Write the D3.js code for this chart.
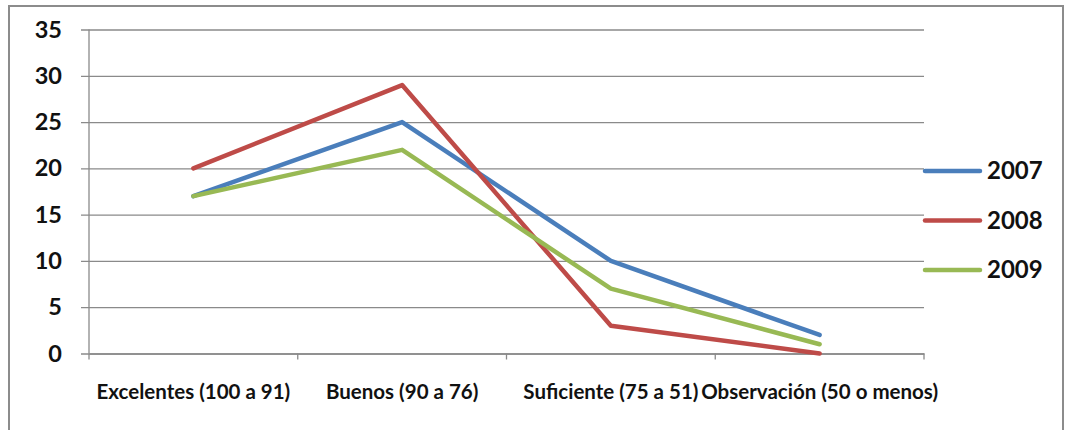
<!DOCTYPE html>
<html>
<head>
<meta charset="utf-8">
<script src="https://cdn.jsdelivr.net/npm/d3@7"></script>
<style>
  html, body { margin: 0; padding: 0; background: #fff; }
  svg { display: block; }
  text { font-family: Lato, "Open Sans", sans-serif; fill: #111; }
</style>
</head>
<body>
<script>
// Categories (score bands) and counts per year
const categories = ["Excelentes (100 a 91)", "Buenos (90 a 76)", "Suficiente (75 a 51)", "Observación (50 o menos)"];
const years = ["2007", "2008", "2009"];
const values2007 = [17, 25, 10, 2];
const values2008 = [20, 29, 3, 0];
const values2009 = [17, 22, 7, 1];
const yTicks = [0, 5, 10, 15, 20, 25, 30, 35];
const colors = ["#4A7EBB", "#BE4B48", "#98B954"];

const series = [values2007, values2008, values2009].map((v, i) => ({ name: years[i], values: v, color: colors[i] }));

const W = 1069, H = 430;
const plotLeft = 89, plotRight = 924, plotTop = 29.5, plotBottom = 353.5;

const svg = d3.select("body").append("svg").attr("width", W).attr("height", H);

// Outer frame
svg.append("rect")
  .attr("x", 9).attr("y", 6).attr("width", 1054).attr("height", 440)
  .attr("fill", "none").attr("stroke", "#8c8c8c").attr("stroke-width", 2);

const x = d3.scaleBand().domain(categories).range([plotLeft, plotRight]).padding(0);
const y = d3.scaleLinear().domain([0, 35]).range([plotBottom, plotTop]);

// Horizontal gridlines with tick stubs on the left
const yAxis = d3.axisLeft(y).tickValues(yTicks).tickSize(-(plotRight - plotLeft)).tickSizeOuter(0).tickPadding(27).tickFormat(d3.format("d"));
const gy = svg.append("g").attr("transform", `translate(${plotLeft},0)`).call(yAxis);
gy.select(".domain").remove();
gy.selectAll(".tick line").attr("stroke", "#8a8a8a").attr("stroke-width", 1.3).attr("x1", -8);
gy.selectAll(".tick text").attr("font-size", 23.5).attr("font-weight", 700).style("fill", "#111");

// Vertical axis line
svg.append("line").attr("x1", plotLeft).attr("x2", plotLeft).attr("y1", plotTop).attr("y2", plotBottom)
  .attr("stroke", "#8a8a8a").attr("stroke-width", 1.3);

// Category axis
const xAxis = d3.axisBottom(x).tickSize(0).tickPadding(31);
const gx = svg.append("g").attr("transform", `translate(0,${plotBottom})`).call(xAxis);
gx.select(".domain").attr("stroke", "#8a8a8a").attr("stroke-width", 1.3);
gx.selectAll(".tick text").attr("font-size", 20.5).attr("font-weight", 700).style("fill", "#111");

// Tick marks at category boundaries
const bounds = categories.map(c => x(c)).concat([x(categories[categories.length - 1]) + x.bandwidth()]);
svg.append("g").selectAll("line").data(bounds).join("line")
  .attr("x1", d => d).attr("x2", d => d).attr("y1", plotBottom).attr("y2", plotBottom + 6)
  .attr("stroke", "#8a8a8a").attr("stroke-width", 1.3);

// Series lines
const line = d3.line()
  .x((d, i) => x(categories[i]) + x.bandwidth() / 2)
  .y(d => y(d));

svg.append("g").selectAll("path").data(series).join("path")
  .attr("d", d => line(d.values))
  .attr("fill", "none")
  .attr("stroke", d => d.color)
  .attr("stroke-width", 4.5)
  .attr("stroke-linejoin", "round")
  .attr("stroke-linecap", "round");

// Legend
const lg = svg.append("g").attr("transform", "translate(925,171)");
const items = lg.selectAll("g").data(series).join("g")
  .attr("transform", (d, i) => `translate(0,${i * 49.5})`);
items.append("line").attr("x1", 0).attr("x2", 55).attr("y1", 0).attr("y2", 0)
  .attr("stroke", d => d.color).attr("stroke-width", 4.5).attr("stroke-linecap", "round");
items.append("text").attr("x", 62).attr("y", 0).attr("dy", "0.35em")
  .attr("font-size", 24).attr("font-weight", 700).text(d => d.name);
</script>
</body>
</html>
